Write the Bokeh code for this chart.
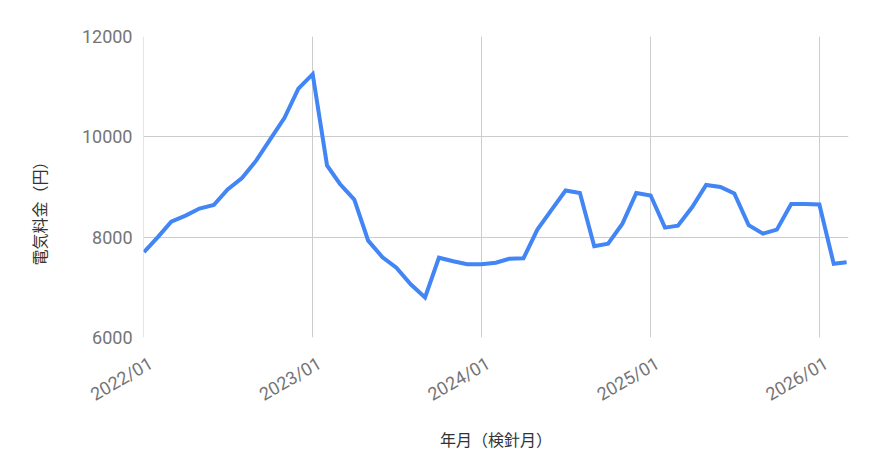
import math
import pandas as pd
from bokeh.plotting import figure
from bokeh.models import FixedTicker, DatetimeTickFormatter, Range1d, Title, ColumnDataSource
from bokeh.embed import file_html
from bokeh.resources import INLINE

# ---- data ----
months = [
    "2022/01", "2022/02", "2022/03", "2022/04", "2022/05", "2022/06",
    "2022/07", "2022/08", "2022/09", "2022/10", "2022/11", "2022/12",
    "2023/01", "2023/02", "2023/03", "2023/04", "2023/05", "2023/06",
    "2023/07", "2023/08", "2023/09", "2023/10", "2023/11", "2023/12",
    "2024/01", "2024/02", "2024/03", "2024/04", "2024/05", "2024/06",
    "2024/07", "2024/08", "2024/09", "2024/10", "2024/11", "2024/12",
    "2025/01", "2025/02", "2025/03", "2025/04", "2025/05", "2025/06",
    "2025/07", "2025/08", "2025/09", "2025/10", "2025/11", "2025/12",
    "2026/01", "2026/02", "2026/03",
]
charges = [
    7700, 8010, 8310, 8430, 8570, 8640, 8950, 9180, 9530, 9950, 10380, 10960,
    11250, 9430, 9060, 8750, 7930, 7600, 7390, 7060, 6800, 7590, 7520, 7460,
    7460, 7490, 7570, 7580, 8150, 8550, 8930, 8880, 7820, 7870, 8270, 8880,
    8830, 8190, 8230, 8600, 9040, 9000, 8870, 8240, 8070, 8150, 8660, 8660,
    8650, 7470, 7500,
]
year_ticks = ["2022/01", "2023/01", "2024/01", "2025/01", "2026/01"]
y_ticks = [6000, 8000, 10000, 12000]
x_title = "年月（検針月）"
y_title = "電気料金（円）"

dates = pd.to_datetime(months, format="%Y/%m")
src = ColumnDataSource(dict(x=dates, y=charges))
grid_ms = [pd.Timestamp(pd.to_datetime(t, format="%Y/%m")).value / 1e6 for t in year_ticks]
DAY_MS = 86400000
label_ms = [t + 15 * DAY_MS for t in grid_ms]   # label anchor nudged right like the original

x_start = dates[0] - pd.Timedelta(days=1)
x_end = dates[-1] + pd.Timedelta(days=4)

p = figure(
    width=864, height=464, x_axis_type="datetime",
    x_range=Range1d(x_start, x_end), y_range=Range1d(6000, 12000),
    output_backend="svg", toolbar_location=None,
    min_border_left=143, min_border_right=16, min_border_top=36, min_border_bottom=127,
)
p.outline_line_color = None
p.background_fill_color = "white"
p.border_fill_color = "white"

p.line("x", "y", source=src, line_color="#4285f4", line_width=4, line_join="miter")

# axes
p.xaxis.ticker = FixedTicker(ticks=label_ms)
fmt = "%Y/%m"
p.xaxis.formatter = DatetimeTickFormatter(
    years=fmt, months=fmt, days=fmt, hours=fmt, minutes=fmt, seconds=fmt,
    milliseconds=fmt, microseconds=fmt, hourmin=fmt, minsec=fmt)
p.xaxis.major_label_orientation = math.pi / 6
p.yaxis.ticker = FixedTicker(ticks=y_ticks)

for ax in (p.xaxis, p.yaxis):
    ax.axis_line_color = None
    ax.major_tick_line_color = None
    ax.minor_tick_line_color = None
    ax.major_tick_out = 0
    ax.major_tick_in = 0
    ax.minor_tick_out = 0
    ax.major_label_text_font = "Roboto"
    ax.major_label_text_font_size = "18px"
    ax.major_label_text_color = "#757575"
p.yaxis.major_label_standoff = 11
p.xaxis.major_label_standoff = 24

p.xaxis.axis_label = x_title
p.xaxis.axis_label_standoff = 10
p.xaxis.axis_label_text_font = "Noto Sans CJK JP"
p.xaxis.axis_label_text_font_size = "16px"
p.xaxis.axis_label_text_font_style = "normal"
p.xaxis.axis_label_text_color = "#333333"

p.xgrid.ticker = FixedTicker(ticks=grid_ms)
p.ygrid.ticker = FixedTicker(ticks=y_ticks)
for g in (p.xgrid, p.ygrid):
    g.grid_line_color = "#cccccc"
    g.grid_line_width = 1

# y axis title
p.add_layout(Title(text=y_title, align="left", offset=72, vertical_align="top", standoff=51,
                   text_font="Noto Sans CJK JP", text_font_size="16px",
                   text_font_style="normal", text_color="#333333"), "left")

open("out.html", "w").write(file_html(p, INLINE))
